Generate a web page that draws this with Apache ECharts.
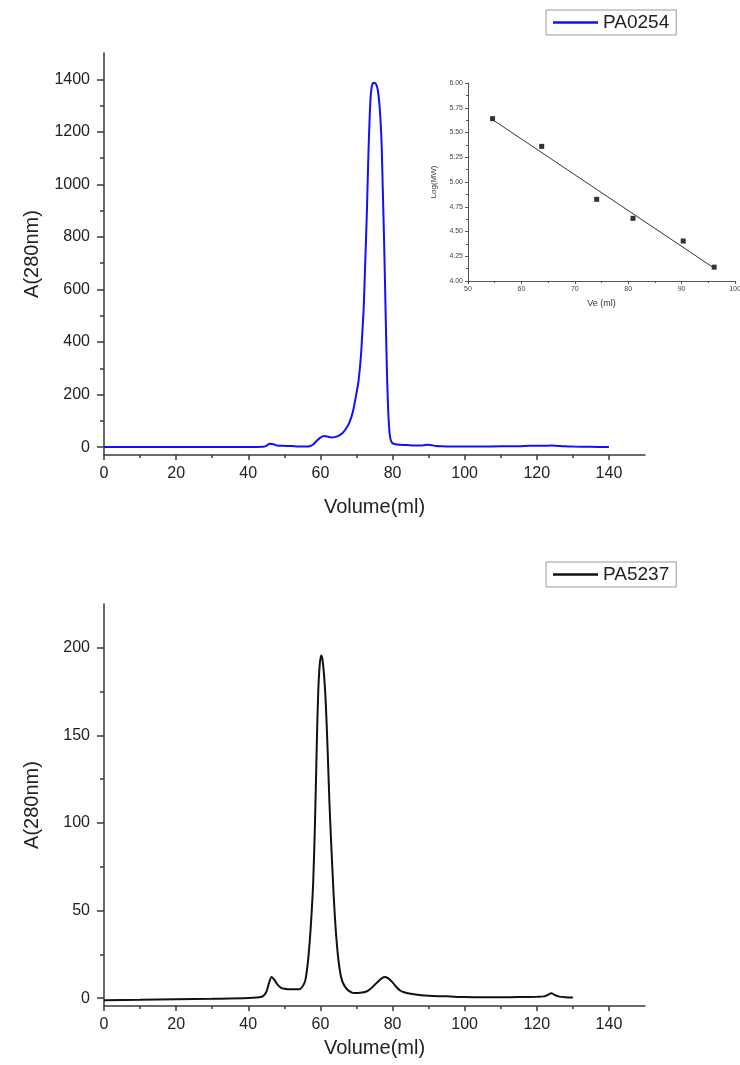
<!DOCTYPE html>
<html>
<head>
<meta charset="utf-8">
<script src="https://cdn.jsdelivr.net/npm/echarts@6/dist/echarts.min.js"></script>
<style>
html,body{margin:0;padding:0;background:#fff;}
#chart{width:740px;height:1065px;}
</style>
</head>
<body>
<div id="chart"></div>
<script>
// ---- data ----
const topVol = [0,10,20,30,40,44,45,46,47,48,50,52,54,56,57,58,59,60,61,62,63,64,65,66,67,68,69,70,70.6,71.2,71.6,72,72.4,72.9,73.3,73.8,74.2,74.8,75.4,75.9,76.4,76.9,77.3,77.7,78.1,78.5,78.9,79.3,79.8,80.5,82,84,86,88,89,90,91,92,94,96,100,105,110,115,118,120,122,124,126,128,130,135,140];
const topAbs = [0,0,0,0,0,1,5,13,11,6,5,4,2,2,3,10,24,36,42,40,37,38,43,52,68,92,135,205,255,340,430,530,690,900,1110,1300,1370,1387,1382,1360,1300,1180,980,760,500,260,110,40,18,12,9,8,6,6,8,9,7,4,3,2,2,2,3,3,5,5,5,6,4,3,2,1,0];

const botVol = [0,10,20,30,40,43,44,45,45.8,46.5,47.2,48,49,50,52,54,55,55.8,56.5,57.1,57.6,58,58.5,59,59.4,59.8,60.2,60.6,61.1,61.5,62,62.5,63,63.5,64,64.6,65.3,66,67,68,69,70,71,72,73,74,75,76,77,78,79,80,81,82,83,85,88,90,95,100,105,110,115,120,122,123,124,125,126,128,130];
const botAbs = [-1.2,-1,-0.7,-0.4,0,0.5,1,3.5,9,12,10.5,8,6,5.3,5,5,6.5,10,20,34,50,66,100,145,175,190,195.6,193,182,168,142,112,88,66,47,30,17,10,6,4,3,2.9,3,3.3,4,5.5,7.5,9.5,11.3,12,11,9,6.5,4.5,3.5,2.5,1.6,1.3,1,0.6,0.5,0.5,0.6,0.8,1,1.8,2.8,1.8,1,0.5,0.3];

const insetVe = [54.6,63.8,74.1,80.9,90.3,96.1];
const insetLogMW = [5.64,5.36,4.825,4.633,4.404,4.14];
const fitVe = [54.6,96.1];
const fitLogMW = [5.63,4.13];

const volTicks = [0,20,40,60,80,100,120,140];
const volMinor = [10,30,50,70,90,110,130];
const topTicks = [0,200,400,600,800,1000,1200,1400];
const topMinor = [100,300,500,700,900,1100,1300];
const botTicks = [0,50,100,150,200];
const botMinor = [25,75,125,175];
const veTicks = [50,60,70,80,90,100];
const veMinor = [55,65,75,85,95];
const mwTicks = [4.00,4.25,4.50,4.75,5.00,5.25,5.50,5.75,6.00];
const mwMinor = [4.125,4.375,4.625,4.875,5.125,5.375,5.625,5.875];

// ---- build ----
const pairs = (xs, ys) => xs.map((x, i) => [x, ys[i]]);
const FONT = "'Liberation Sans', Arial, sans-serif";
const AX = '#3a3a3a';
const TXT = '#222';
const plain = v => String(Math.round(v * 1000) / 1000);

function mainX(grid, name, gap) {
  return [{
    type: 'value', gridIndex: grid, min: 0, max: 150, position: 'bottom',
    axisLine: {show: true, onZero: false, lineStyle: {color: AX, width: 1.5}},
    axisTick: {show: true, customValues: volTicks, length: 5, lineStyle: {color: AX, width: 1.5}},
    axisLabel: {show: true, customValues: volTicks, margin: 11, fontSize: 16, color: TXT, fontFamily: FONT, formatter: plain},
    splitLine: {show: false},
    name: name, nameLocation: 'middle', nameGap: gap,
    nameTextStyle: {fontSize: 20, color: TXT, fontFamily: FONT}
  }, {
    type: 'value', gridIndex: grid, min: 0, max: 150, position: 'bottom',
    axisLine: {show: false, onZero: false},
    axisTick: {show: true, customValues: volMinor, length: 3, lineStyle: {color: AX, width: 1.5}},
    axisLabel: {show: false}, splitLine: {show: false}
  }];
}
function mainY(grid, min, max, ticks, minor) {
  return [{
    type: 'value', gridIndex: grid, min: min, max: max, position: 'left',
    axisLine: {show: true, onZero: false, lineStyle: {color: AX, width: 1.5}},
    axisTick: {show: true, customValues: ticks, length: 7, lineStyle: {color: AX, width: 1.5}},
    axisLabel: {show: true, customValues: ticks, margin: 14, fontSize: 16, color: TXT, fontFamily: FONT, formatter: plain},
    splitLine: {show: false},
    name: 'A(280nm)', nameLocation: 'middle', nameGap: 62, nameRotate: 90,
    nameTextStyle: {fontSize: 20, color: TXT, fontFamily: FONT}
  }, {
    type: 'value', gridIndex: grid, min: min, max: max, position: 'left',
    axisLine: {show: false, onZero: false},
    axisTick: {show: true, customValues: minor, length: 4, lineStyle: {color: AX, width: 1.5}},
    axisLabel: {show: false}, splitLine: {show: false}
  }];
}

const IAX = '#555';
const insetX = [{
  type: 'value', gridIndex: 2, min: 50, max: 100, position: 'bottom',
  axisLine: {show: true, onZero: false, lineStyle: {color: IAX, width: 1}},
  axisTick: {show: true, customValues: veTicks, length: 3, lineStyle: {color: IAX}},
  axisLabel: {show: true, customValues: veTicks, margin: 5, fontSize: 7, color: '#444', fontFamily: FONT, formatter: plain},
  splitLine: {show: false},
  name: 'Ve (ml)', nameLocation: 'middle', nameGap: 18,
  nameTextStyle: {fontSize: 9, color: '#333', fontFamily: FONT}
}, {
  type: 'value', gridIndex: 2, min: 50, max: 100, position: 'bottom',
  axisLine: {show: false, onZero: false},
  axisTick: {show: true, customValues: veMinor, length: 2, lineStyle: {color: IAX}},
  axisLabel: {show: false}, splitLine: {show: false}
}];
const insetY = [{
  type: 'value', gridIndex: 2, min: 4, max: 6, position: 'left',
  axisLine: {show: true, onZero: false, lineStyle: {color: IAX, width: 1}},
  axisTick: {show: true, customValues: mwTicks, length: 3, lineStyle: {color: IAX}},
  axisLabel: {show: true, customValues: mwTicks, margin: 5, fontSize: 7, color: '#444', fontFamily: FONT,
    formatter: v => Number(v).toFixed(2)},
  splitLine: {show: false},
  name: 'Log(MW)', nameLocation: 'middle', nameGap: 30, nameRotate: 90,
  nameTextStyle: {fontSize: 8, color: '#333', fontFamily: FONT}
}, {
  type: 'value', gridIndex: 2, min: 4, max: 6, position: 'left',
  axisLine: {show: false, onZero: false},
  axisTick: {show: true, customValues: mwMinor, length: 2, lineStyle: {color: IAX}},
  axisLabel: {show: false}, splitLine: {show: false}
}];

const legendBase = {
  orient: 'horizontal', left: 546, itemWidth: 45, itemHeight: 2.5, icon: 'rect',
  borderColor: '#999', borderWidth: 1, padding: [3, 7, 3, 7], backgroundColor: '#fff',
  textStyle: {fontSize: 19, color: TXT, fontFamily: FONT, lineHeight: 19}, selectedMode: false
};

const option = {
  animation: false,
  backgroundColor: '#fff',
  grid: [
    {left: 104, top: 53, width: 541, height: 402, outerBoundsMode: 'none'},
    {left: 104, top: 604, width: 541, height: 402, outerBoundsMode: 'none'},
    {left: 468, top: 83, width: 267, height: 198, outerBoundsMode: 'none'}
  ],
  legend: [
    Object.assign({}, legendBase, {top: 10, data: ['PA0254']}),
    Object.assign({}, legendBase, {top: 562, data: ['PA5237']})
  ],
  xAxis: [].concat(mainX(0, 'Volume(ml)', 42), mainX(1, 'Volume(ml)', 32), insetX),
  yAxis: [].concat(mainY(0, -30, 1500, topTicks, topMinor), mainY(1, -4.5, 225, botTicks, botMinor), insetY),
  series: [
    {name: 'PA0254', type: 'line', xAxisIndex: 0, yAxisIndex: 0, data: pairs(topVol, topAbs),
      symbol: 'none', smooth: 0.3, lineStyle: {color: '#1010ff', width: 2}, itemStyle: {color: '#1010ff'}},
    {name: 'PA5237', type: 'line', xAxisIndex: 2, yAxisIndex: 2, data: pairs(botVol, botAbs),
      symbol: 'none', smooth: 0.3, lineStyle: {color: '#111', width: 2}, itemStyle: {color: '#111'}},
    {name: 'fit', type: 'line', xAxisIndex: 4, yAxisIndex: 4, data: pairs(fitVe, fitLogMW),
      symbol: 'none', lineStyle: {color: '#333', width: 1}},
    {name: 'standards', type: 'scatter', xAxisIndex: 4, yAxisIndex: 4, data: pairs(insetVe, insetLogMW),
      symbol: 'rect', symbolSize: 5, itemStyle: {color: '#000'}}
  ]
};

const chart = echarts.init(document.getElementById('chart'), null, {renderer: 'canvas'});
chart.setOption(option);
</script>
</body>
</html>
